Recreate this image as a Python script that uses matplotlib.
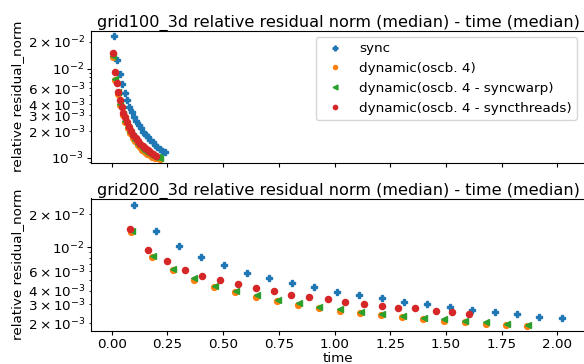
import matplotlib
matplotlib.use("Agg")
import matplotlib.pyplot as plt
from matplotlib.ticker import LogFormatterSciNotation

labels = ["sync", "dynamic(oscb. 4)", "dynamic(oscb. 4 - syncwarp)",
          "dynamic(oscb. 4 - syncthreads)"]
titles = ["grid100_3d relative residual norm (median) - time (median)",
          "grid200_3d relative residual norm (median) - time (median)"]

# ---- grid100_3d ----
g100_sync_t = [0.0103, 0.0238, 0.0359, 0.0476, 0.0583, 0.0687, 0.079, 0.0898, 0.100, 0.1105,
               0.121, 0.1315, 0.142, 0.1526, 0.163, 0.173, 0.184, 0.194, 0.205, 0.215, 0.226, 0.239]
g100_sync_r = [0.0233, 0.01253, 0.00872, 0.00668, 0.00533, 0.00441, 0.00374, 0.00326, 0.00289, 0.00258,
               0.00235, 0.00214, 0.00196, 0.00182, 0.0017, 0.00158, 0.00149, 0.0014, 0.00133, 0.00126,
               0.00121, 0.00116]
g100_dyn_t = [0.0050, 0.0160, 0.0271, 0.0382, 0.0493, 0.0604, 0.0715, 0.0826, 0.0937, 0.1048,
              0.1159, 0.1270, 0.1381, 0.1492, 0.1603, 0.1714, 0.1825, 0.1936, 0.2047, 0.2158]
g100_dyn_r = [0.0135, 0.0075, 0.0052, 0.0039, 0.0030, 0.00252, 0.00215, 0.00188, 0.00169, 0.00153,
              0.00141, 0.00131, 0.00123, 0.00117, 0.00112, 0.00107, 0.00103, 0.00100, 0.00099, 0.00097]
g100_warp_t = [0.0058, 0.0169, 0.028, 0.0391, 0.0502, 0.0613, 0.0724, 0.0835, 0.0946, 0.1057,
               0.1168, 0.1279, 0.139, 0.1501, 0.1612, 0.1723, 0.1834, 0.1945, 0.2056, 0.2167]
g100_warp_r = [0.0139, 0.0077, 0.0054, 0.0040, 0.0031, 0.0026, 0.00222, 0.00194, 0.00174, 0.00158,
               0.00145, 0.00135, 0.00127, 0.00121, 0.00115, 0.0011, 0.00106, 0.00103, 0.00102, 0.00100]
g100_thr_t = [0.0058, 0.0148, 0.0238, 0.0296, 0.0373, 0.0449, 0.052, 0.0597, 0.0687, 0.0776,
              0.0866, 0.097, 0.1077, 0.118, 0.1284, 0.139, 0.1494, 0.1616, 0.173, 0.1854, 0.1975]
g100_thr_r = [0.0151, 0.0091, 0.00686, 0.00543, 0.00445, 0.00374, 0.00321, 0.00284, 0.00252, 0.00223,
              0.00201, 0.00183, 0.00166, 0.00154, 0.00144, 0.00135, 0.00129, 0.00122, 0.00116, 0.00111,
              0.00106]

# ---- grid200_3d ----
g200_sync_t = [0.10, 0.20, 0.30, 0.402, 0.503, 0.606, 0.706, 0.808, 0.908, 1.013,
               1.111, 1.212, 1.313, 1.414, 1.517, 1.616, 1.72, 1.819, 1.918, 2.022]
g200_sync_r = [0.0243, 0.0141, 0.0103, 0.00815, 0.00685, 0.00586, 0.00521, 0.00465, 0.00428, 0.00391,
               0.00362, 0.0034, 0.00317, 0.00299, 0.00284, 0.00268, 0.00255, 0.00243, 0.00231, 0.00222]
g200_dyn_t = [0.087, 0.181, 0.274, 0.368, 0.461, 0.555, 0.648, 0.742, 0.836, 0.929,
              1.023, 1.116, 1.210, 1.303, 1.397, 1.490, 1.584, 1.678, 1.771, 1.865]
g200_dyn_r = [0.0137, 0.0081, 0.00614, 0.00505, 0.0043, 0.00387, 0.00351, 0.0032, 0.00297, 0.00277,
              0.00262, 0.00247, 0.00238, 0.00228, 0.00219, 0.00211, 0.00205, 0.00198, 0.00192, 0.00188]
g200_warp_t = [0.090, 0.184, 0.277, 0.371, 0.464, 0.558, 0.651, 0.745, 0.839, 0.932,
               1.026, 1.119, 1.213, 1.306, 1.400, 1.493, 1.587, 1.681, 1.774, 1.868]
g200_warp_r = [0.0141, 0.00838, 0.00634, 0.00521, 0.00444, 0.00399, 0.00362, 0.0033, 0.00306, 0.00285,
               0.0027, 0.00255, 0.00245, 0.00235, 0.00226, 0.00218, 0.00211, 0.00204, 0.00198, 0.00194]
g200_thr_t = [0.081, 0.164, 0.247, 0.328, 0.407, 0.487, 0.567, 0.649, 0.728, 0.805,
              0.884, 0.969, 1.047, 1.131, 1.212, 1.287, 1.363, 1.454, 1.527, 1.604]
g200_thr_r = [0.0147, 0.00951, 0.0074, 0.00621, 0.00544, 0.005, 0.00456, 0.00426, 0.00397, 0.00367,
              0.00352, 0.00333, 0.00315, 0.00302, 0.0029, 0.00279, 0.00275, 0.00262, 0.00253, 0.00246]

xticks = [0.0, 0.25, 0.5, 0.75, 1.0, 1.25, 1.5, 1.75, 2.0]

colors = ["#1f77b4", "#ff7f0e", "#2ca02c", "#d62728"]
markers = ["P", "o", "<", "o"]
msizes = [5, 4.2, 5, 4.4]

fig = plt.figure(figsize=(5.84, 3.64), dpi=100)
W, H = 584.0, 364.0
ax1 = fig.add_axes([91 / W, 1 - 162.5 / H, 494 / W, 131.8 / H])
ax2 = fig.add_axes([91 / W, 1 - 330.5 / H, 494 / W, 132.0 / H], sharex=ax1)

panels = [
    (ax1, [(g100_sync_t, g100_sync_r), (g100_dyn_t, g100_dyn_r),
           (g100_warp_t, g100_warp_r), (g100_thr_t, g100_thr_r)], (8.9e-4, 0.0265)),
    (ax2, [(g200_sync_t, g200_sync_r), (g200_dyn_t, g200_dyn_r),
           (g200_warp_t, g200_warp_r), (g200_thr_t, g200_thr_r)], (1.72e-3, 0.028)),
]

for i, (ax, series, ylim) in enumerate(panels):
    for (t, r), c, m, ms, lab in zip(series, colors, markers, msizes, labels):
        ax.plot(t, r, linestyle="none", marker=m, color=c, markersize=ms, label=lab)
    ax.set_yscale("log")
    ax.set_ylim(*ylim)
    ax.yaxis.set_major_formatter(LogFormatterSciNotation(labelOnlyBase=False, minor_thresholds=(2, 0.4)))
    ax.yaxis.set_minor_formatter(LogFormatterSciNotation(labelOnlyBase=False, minor_thresholds=(2, 0.4)))
    ax.set_ylabel("relative residual_norm", fontsize=9.7, labelpad=3)
    ax.set_title(titles[i], fontsize=11.6, pad=3)
    ax.tick_params(which="major", labelsize=9.7, length=3, pad=2.2)
    ax.tick_params(which="minor", labelsize=9.7, length=1.8, pad=2.2)

ax1.set_xlim(-0.093, 2.124)
ax1.tick_params(labelbottom=False)
ax2.set_xlabel("time", fontsize=9.7, labelpad=1)
ax2.set_xticks(xticks)

ax1.legend(loc="upper right", fontsize=9.7, markerscale=0.7, borderaxespad=0,
           bbox_to_anchor=((577 - 91) / 494, (162.5 - 37) / 131.8))

fig.savefig("out.png", dpi=100)
